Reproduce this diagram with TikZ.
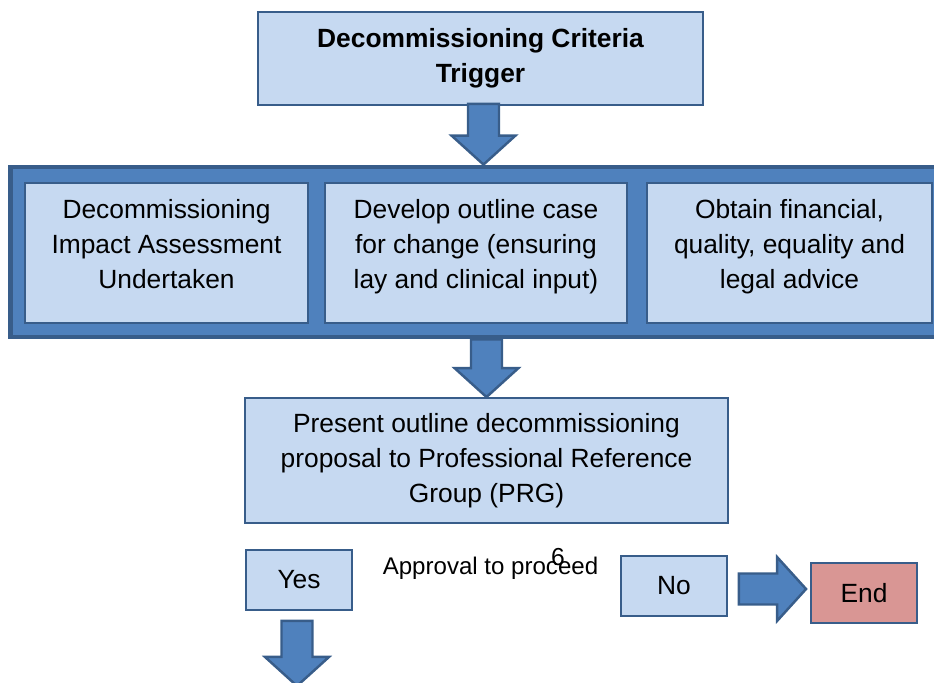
\documentclass[tikz,border=0pt]{standalone}
\usepackage{fontspec}
\setmainfont{Liberation Sans}
\usetikzlibrary{calc,positioning}

\definecolor{boxfill}{HTML}{C6D9F1}
\definecolor{boxline}{HTML}{385D8A}
\definecolor{arrowfill}{HTML}{4F81BD}
\definecolor{endfill}{HTML}{D99694}

\tikzset{
  stepbox/.style={draw=boxline,line width=1.1pt,fill=boxfill,align=center,inner sep=0pt},
  taskbox/.style={stepbox,minimum height=2.8cm,text depth=10pt},
  bandbox/.style={draw=boxline,line width=2.8pt,fill=arrowfill,inner sep=0pt},
  blockarr/.style={draw=boxline,line width=1.4pt,fill=arrowfill,line join=miter},
}

% block arrow from #1 to #2 (tip at #2)
\newcommand{\blockarrow}[2]{%
  \coordinate (ba-s) at (#1);
  \coordinate (ba-t) at (#2);
  \coordinate (ba-h) at ($(ba-t)!0.58cm!(ba-s)$);
  \draw[blockarr] ($(ba-s)!0.31cm!90:(ba-t)$) -- ($(ba-h)!0.31cm!90:(ba-t)$)
    -- ($(ba-h)!0.64cm!90:(ba-t)$) -- (ba-t) -- ($(ba-h)!0.64cm!-90:(ba-t)$)
    -- ($(ba-h)!0.31cm!-90:(ba-t)$) -- ($(ba-s)!0.31cm!-90:(ba-t)$) -- cycle;
}

\begin{document}
\begin{tikzpicture}[x=0.02cm,y=-0.02cm,font=\fontsize{15}{19.9}\selectfont]
\clip (0,0) rectangle (934,683);

% trigger
\node[stepbox,minimum width=8.9cm,minimum height=1.86cm,font=\fontsize{15}{19.9}\selectfont\bfseries]
  (trigger) at (480.5,58.5) {Decommissioning Criteria\\Trigger};

% band with the three parallel tasks
\node[bandbox,minimum width=18.8cm,minimum height=3.4cm] (band) at (480,252) {};
\node[taskbox,minimum width=5.66cm] (impact) at (166.5,253)
  {Decommissioning\\Impact Assessment\\Undertaken};
\node[taskbox,minimum width=6.04cm] (case) at (476,253)
  {Develop outline case\\for change (ensuring\\lay and clinical input)};
\node[taskbox,minimum width=5.7cm] (advice) at (789.5,253)
  {Obtain financial,\\quality, equality and\\legal advice};

% PRG
\node[stepbox,minimum width=9.66cm,minimum height=2.5cm] (prg) at (486.5,460.5)
  {Present outline decommissioning\\proposal to Professional Reference\\Group (PRG)};

% decision
\node[stepbox,minimum width=2.12cm,minimum height=1.2cm] (yes) at (299,580) {Yes};
\node[font=\fontsize{13.7}{16}\selectfont] (approve) at (490.5,568) {Approval to proceed};
\node[font=\fontsize{14}{16}\selectfont] (pagenum) at (558,557) {6};
\node[stepbox,minimum width=2.12cm,minimum height=1.2cm] (no) at (674,586) {No};
\node[stepbox,fill=endfill,minimum width=2.12cm,minimum height=1.2cm] (end) at (864,593) {End};
\coordinate (cont) at ($(yes.south)+(-2,75)$);
\coordinate (trig-out) at ($(trigger.south)+(3,-2)$);

% arrows
\blockarrow{trig-out}{trig-out |- band.north}
\blockarrow{prg.north |- band.south}{prg.north}
\blockarrow{$(no.east)+(11,3)$}{$(end.west)+(-4,-4)$}
\blockarrow{$(yes.south)+(-2,10)$}{cont}
\end{tikzpicture}
\end{document}
